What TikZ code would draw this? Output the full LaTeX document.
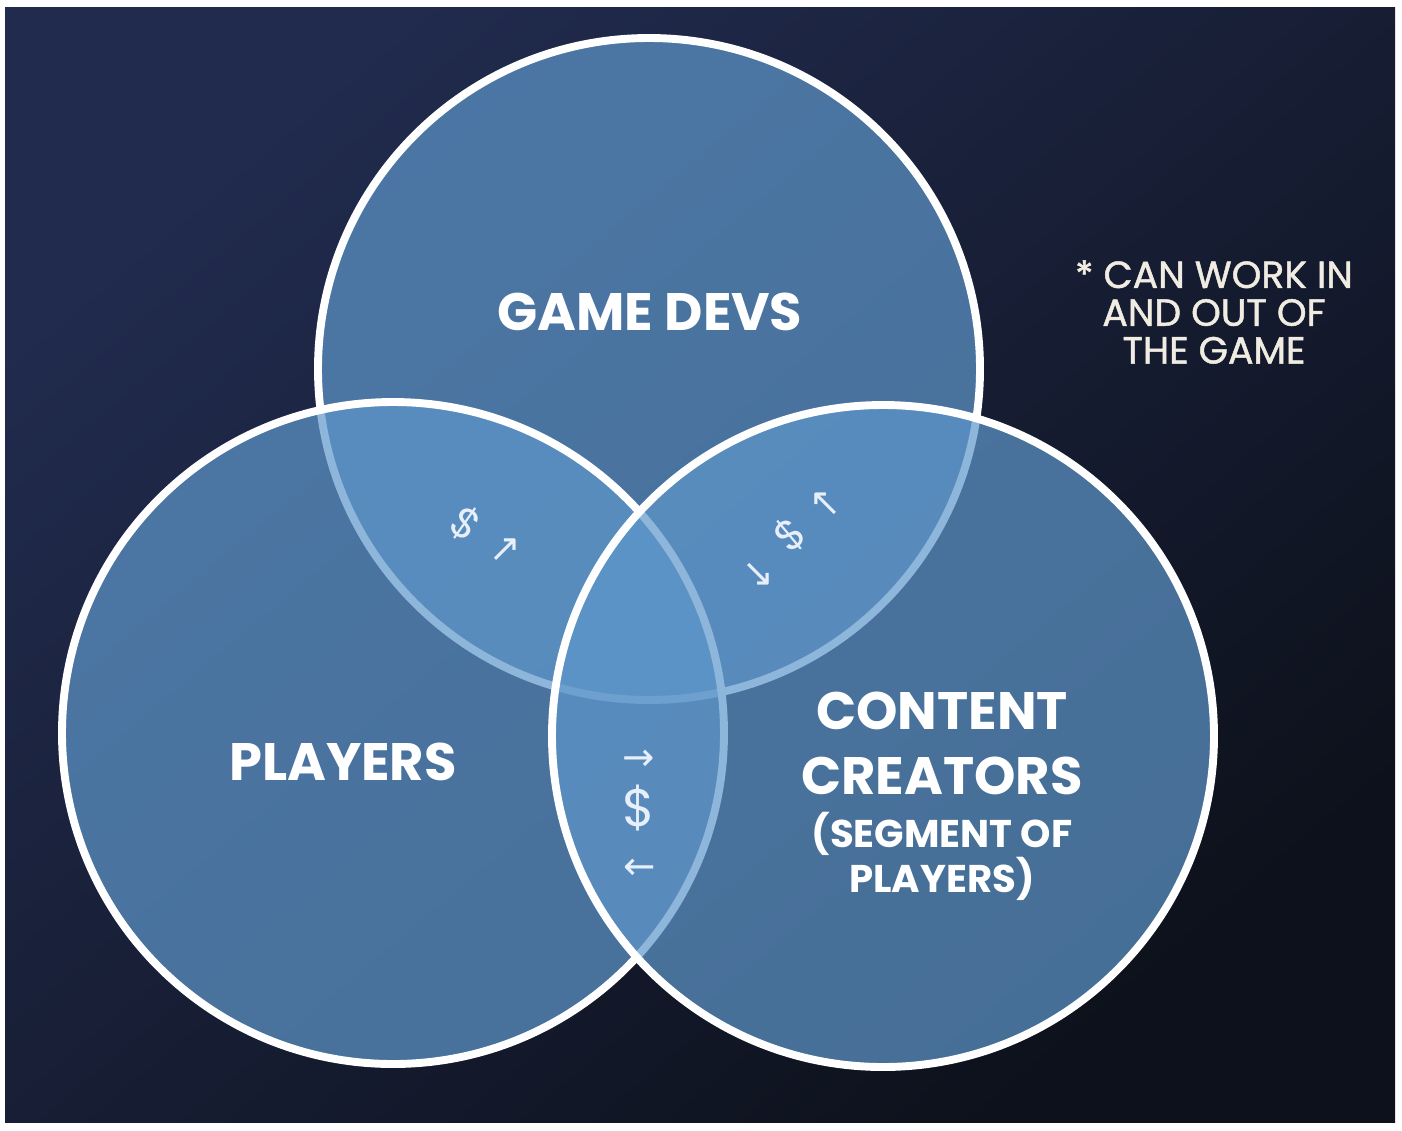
\documentclass[tikz,border=0pt]{standalone}
\usepackage{fontspec}
\setmainfont{Poppins}
\newfontfamily\notefont{Poppins}[FakeBold=1.3]
\newfontfamily\arrowfont{DejaVu Sans}
\usetikzlibrary{positioning}

\definecolor{bgtop}{RGB}{33,43,78}
\definecolor{bgbot}{RGB}{13,17,27}
\definecolor{vennblue}{RGB}{95,151,203}
\definecolor{notecol}{RGB}{240,236,226}
\definecolor{glyphcol}{RGB}{230,239,250}

\begin{document}
\begin{tikzpicture}[
  x=0.02cm, y=-0.02cm,
  every node/.style={inner sep=0, text=white},
  venn/.style={fill=vennblue, fill opacity=0.7, draw=white, line width=4.5pt},
  title/.style={font=\bfseries\fontsize{30}{37}\selectfont, align=center},
  sub/.style={font=\bfseries\fontsize{22}{24}\selectfont, align=center},
  note/.style={font=\notefont\fontsize{21.5}{21.5}\selectfont, text=notecol, align=center},
  money/.style={font=\fontsize{30}{30}\selectfont, text=glyphcol},
  smallmoney/.style={money, font=\fontsize{24}{24}\selectfont},
  arr/.style={font=\arrowfont\fontsize{22}{22}\selectfont, text=glyphcol}
  ]
  % page and backdrop
  \fill[white] (0,0) rectangle (1402,1130);
  \shade[top color=bgtop, bottom color=bgbot, shading angle=40] (5,7) rectangle (1395,1122);

  % the three sets
  \coordinate (devs c) at (649,369);
  \coordinate (players c) at (393,733);
  \coordinate (creators c) at (883,736);
  \draw[venn] (devs c) circle [radius=331];
  \draw[venn] (players c) circle [radius=331];
  \draw[venn] (creators c) circle [radius=331];

  \node[title](devs) at (650,312) {GAME DEVS};
  \node[title](players) at (343,762) {PLAYERS};
  \node[title](creators) at (942,743) {CONTENT\\CREATORS};
  \node[sub, below=0.34cm of creators](segment) {(SEGMENT OF\\PLAYERS)};

  \node[note](note) at (1214,312) {* CAN WORK IN\\AND OUT OF\\THE GAME};

  % money flows
  \node[smallmoney, rotate=-35](dp money) at (466,524) {\$};
  \node[arr, rotate=45](dp arrow) at (507,551) {→};
  \node[smallmoney, rotate=40](dc money) at (790,535) {\$};
  \node[arr, rotate=135](dc up) at (827,502) {→};
  \node[arr, rotate=-45](dc down) at (757,576) {→};
  \node[arr](pc right) at (639,760) {→};
  \node[money](pc money) at (639,808) {\$};
  \node[arr](pc left) at (640,869) {←};
\end{tikzpicture}
\end{document}
